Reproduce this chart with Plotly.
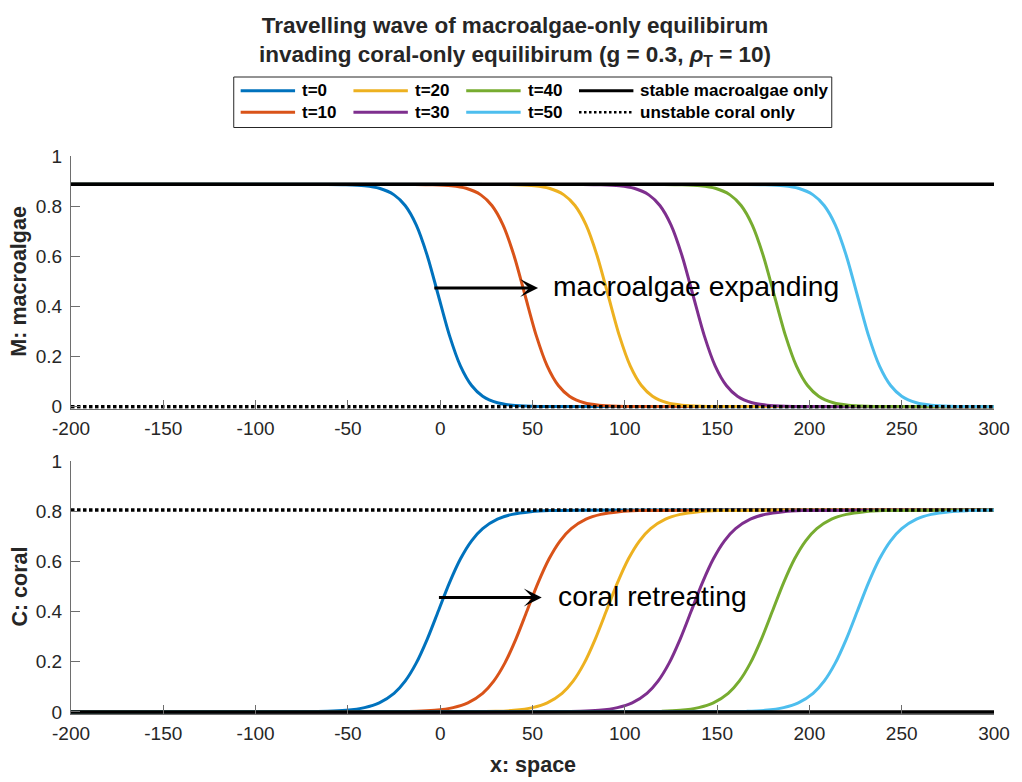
import plotly.graph_objects as go

# ---------------- data ----------------
TIME_LABELS = ["t=0", "t=10", "t=20", "t=30", "t=40", "t=50"]
COLORS = ["#0072BD", "#D95319", "#EDB120", "#7E2F8E", "#77AC30", "#4DBEEE"]

# M: macroalgae profiles (x positions per time, shared read profile values)
M_X_T0 = [-200, -61, -51, -41, -33, -25, -19, -13, -7, -1, 5, 11, 17, 23, 31, 39, 49, 59, 300]
M_X_T10 = [-200, -14, -4, 6, 14, 22, 28, 34, 40, 46, 52, 58, 64, 70, 78, 86, 96, 106, 300]
M_X_T20 = [-200, 31, 41, 51, 59, 67, 73, 79, 85, 91, 97, 103, 109, 115, 123, 131, 141, 151, 300]
M_X_T30 = [-200, 77, 87, 97, 105, 113, 119, 125, 131, 137, 143, 149, 155, 161, 169, 177, 187, 197, 300]
M_X_T40 = [-200, 121, 131, 141, 149, 157, 163, 169, 175, 181, 187, 193, 199, 205, 213, 221, 231, 241, 300]
M_X_T50 = [-200, 166, 176, 186, 194, 202, 208, 214, 220, 226, 232, 238, 244, 250, 258, 266, 276, 286, 300]
M_VALUES = [0.887, 0.8865, 0.8853, 0.8811, 0.8711, 0.8449, 0.8024, 0.7252, 0.6024, 0.4435,
            0.2846, 0.1618, 0.0846, 0.0421, 0.0159, 0.0059, 0.0017, 0.0005, 0.0]

# C: coral profiles
C_X_T0 = [-200, -61, -51, -41, -33, -25, -19, -13, -7, -1, 5, 11, 17, 23, 31, 39, 49, 59, 300]
C_X_T10 = [-200, -13, -3, 7, 15, 23, 29, 35, 41, 47, 53, 59, 65, 71, 79, 87, 97, 107, 300]
C_X_T20 = [-200, 30, 40, 50, 58, 66, 72, 78, 84, 90, 96, 102, 108, 114, 122, 130, 140, 150, 300]
C_X_T30 = [-200, 76, 86, 96, 104, 112, 118, 124, 130, 136, 142, 148, 154, 160, 168, 176, 186, 196, 300]
C_X_T40 = [-200, 120, 130, 140, 148, 156, 162, 168, 174, 180, 186, 192, 198, 204, 212, 220, 230, 240, 300]
C_X_T50 = [-200, 166, 176, 186, 194, 202, 208, 214, 220, 226, 232, 238, 244, 250, 258, 266, 276, 286, 300]
C_VALUES = [0.0, 0.0027, 0.0068, 0.0175, 0.0365, 0.0743, 0.1229, 0.1946, 0.2905, 0.4025,
            0.5145, 0.6104, 0.6821, 0.7307, 0.7685, 0.7875, 0.7982, 0.8023, 0.805]

M_X = [M_X_T0, M_X_T10, M_X_T20, M_X_T30, M_X_T40, M_X_T50]
C_X = [C_X_T0, C_X_T10, C_X_T20, C_X_T30, C_X_T40, C_X_T50]

# equilibria
EQ_X = [-200, 300]
STABLE_M = [0.887, 0.887]   # macroalgae-only: M
STABLE_C = [0.0, 0.0]       # macroalgae-only: C
UNSTABLE_M = [0.0, 0.0]     # coral-only: M
UNSTABLE_C = [0.805, 0.805] # coral-only: C

X_TICKS = [-200, -150, -100, -50, 0, 50, 100, 150, 200, 250, 300]
X_TICK_TEXT = ["-200", "-150", "-100", "-50", "0", "50", "100", "150", "200", "250", "300"]
Y_TICKS = [0, 0.2, 0.4, 0.6, 0.8, 1]
Y_TICK_TEXT = ["0", "0.2", "0.4", "0.6", "0.8", "1"]

# arrow annotations (data coordinates)
TOP_ARROW = dict(x0=-4, x1=53, y=0.473)
TOP_TEXT = dict(x=60, y=0.48, text="macroalgae expanding")
BOT_ARROW = dict(x0=-1.5, x1=55, y=0.456)
BOT_TEXT = dict(x=62.5, y=0.463, text="coral retreating")

# ---------------- layout helpers ----------------
W, H = 1022, 782
ML, MR, MT, MB = 71, 18, 156, 68
PW, PH = W - ML - MR, H - MT - MB


def px_x(p):
    return (p - ML) / PW


def px_y(p):
    return (H - MB - p) / PH


FONT = "Liberation Sans, Arial, Helvetica, sans-serif"
TXT = "#262626"
AX = "#6e6e6e"

fig = go.Figure()

for i in range(6):
    fig.add_trace(go.Scatter(x=M_X[i], y=M_VALUES, mode="lines", name=TIME_LABELS[i],
                             line=dict(color=COLORS[i], width=3, shape="spline", smoothing=0.8),
                             xaxis="x", yaxis="y", showlegend=False))
for i in range(6):
    fig.add_trace(go.Scatter(x=C_X[i], y=C_VALUES, mode="lines", name=TIME_LABELS[i],
                             line=dict(color=COLORS[i], width=3, shape="spline", smoothing=0.8),
                             xaxis="x2", yaxis="y2", showlegend=False))

DOT = "3.5px,2.5px"
fig.add_trace(go.Scatter(x=EQ_X, y=STABLE_M, mode="lines", name="stable macroalgae only",
                         line=dict(color="black", width=3.5), xaxis="x", yaxis="y", showlegend=False))
fig.add_trace(go.Scatter(x=EQ_X, y=UNSTABLE_M, mode="lines", name="unstable coral only",
                         line=dict(color="black", width=3.5, dash=DOT), xaxis="x", yaxis="y", showlegend=False))
fig.add_trace(go.Scatter(x=EQ_X, y=STABLE_C, mode="lines", name="stable macroalgae only",
                         line=dict(color="black", width=3.5), xaxis="x2", yaxis="y2", showlegend=False))
fig.add_trace(go.Scatter(x=EQ_X, y=UNSTABLE_C, mode="lines", name="unstable coral only",
                         line=dict(color="black", width=3.5, dash=DOT), xaxis="x2", yaxis="y2", showlegend=False))

axis_common = dict(showline=True, linecolor=AX, linewidth=1, mirror=False,
                   ticks="inside", ticklen=9, tickwidth=1, tickcolor=AX,
                   showgrid=False, zeroline=False,
                   tickfont=dict(family=FONT, size=19, color=TXT))

top_dom = [px_y(408.7), 1.0]
bot_dom = [0.0, px_y(461)]

fig.update_layout(
    width=W, height=H,
    margin=dict(l=ML, r=MR, t=MT, b=MB),
    paper_bgcolor="white", plot_bgcolor="white",
    showlegend=False,
    xaxis=dict(domain=[0, 1], anchor="y", range=[-200, 300], tickvals=X_TICKS,
               ticktext=X_TICK_TEXT, ticklabelstandoff=2, **axis_common),
    yaxis=dict(domain=top_dom, anchor="x", range=[-0.008, 1.0], tickvals=Y_TICKS,
               ticktext=Y_TICK_TEXT, ticklabelstandoff=4, **axis_common),
    xaxis2=dict(domain=[0, 1], anchor="y2", range=[-200, 300], tickvals=X_TICKS,
                ticktext=X_TICK_TEXT, ticklabelstandoff=2, **axis_common),
    yaxis2=dict(domain=bot_dom, anchor="x2", range=[-0.008, 1.0], tickvals=Y_TICKS,
                ticktext=Y_TICK_TEXT, ticklabelstandoff=4, **axis_common),
    title=dict(text="Travelling wave of macroalgae-only equilibirum<br>"
                    "invading coral-only equilibirum (g = 0.3, <i>ρ</i><sub>T</sub> = 10)",
               font=dict(family=FONT, size=22.5, color=TXT, weight=700),
               xref="container", x=515 / W, xanchor="center",
               yref="container", y=1 - 33 / H, yanchor="middle"),
)

annotations = []
# axis titles
annotations.append(dict(text="M: macroalgae", xref="paper", yref="paper",
                        x=px_x(18.5), y=px_y(281.6), showarrow=False, textangle=-90,
                        xanchor="center", yanchor="middle",
                        font=dict(family=FONT, size=21.5, color=TXT, weight=700)))
annotations.append(dict(text="C: coral", xref="paper", yref="paper",
                        x=px_x(18.5), y=px_y(586.5), showarrow=False, textangle=-90,
                        xanchor="center", yanchor="middle",
                        font=dict(family=FONT, size=21.5, color=TXT, weight=700)))
annotations.append(dict(text="x: space", xref="paper", yref="paper",
                        x=px_x(537.5), y=px_y(765), showarrow=False,
                        xanchor="center", yanchor="middle",
                        font=dict(family=FONT, size=21.5, color=TXT, weight=700)))
# arrows + labels
for arr, txt, xr, yr in [(TOP_ARROW, TOP_TEXT, "x", "y"), (BOT_ARROW, BOT_TEXT, "x2", "y2")]:
    annotations.append(dict(x=arr["x1"], y=arr["y"], ax=arr["x0"], ay=arr["y"],
                            xref=xr, yref=yr, axref=xr, ayref=yr, text="",
                            showarrow=True, arrowhead=3, arrowsize=1, arrowwidth=3,
                            arrowcolor="black", standoff=0, startstandoff=0))
    annotations.append(dict(x=txt["x"], y=txt["y"], xref=xr, yref=yr, text=txt["text"],
                            showarrow=False, xanchor="left", yanchor="middle",
                            font=dict(family=FONT, size=28.3, color="black")))

# manual legend (4 columns x 2 rows, column-major like the reference)
shapes = [dict(type="rect", xref="paper", yref="paper",
               x0=px_x(235.5), x1=px_x(840), y0=px_y(127.5), y1=px_y(77),
               line=dict(color=TXT, width=1), fillcolor="white", layer="above")]
legend_items = [
    (TIME_LABELS[0], COLORS[0], None, 0, 0), (TIME_LABELS[1], COLORS[1], None, 0, 1),
    (TIME_LABELS[2], COLORS[2], None, 1, 0), (TIME_LABELS[3], COLORS[3], None, 1, 1),
    (TIME_LABELS[4], COLORS[4], None, 2, 0), (TIME_LABELS[5], COLORS[5], None, 2, 1),
    ("stable macroalgae only", "black", None, 3, 0),
    ("unstable coral only", "black", "2.5px,2.5px", 3, 1),
]
col_x = [242.5, 356.5, 470.5, 584.5]
row_y = [90.7, 112.3]
for label, color, dash, c, r in legend_items:
    x0 = col_x[c]
    yy = px_y(row_y[r])
    ln = dict(color=color, width=3 if dash is None else 2.5)
    if dash:
        ln["dash"] = dash
    shapes.append(dict(type="line", xref="paper", yref="paper",
                       x0=px_x(x0), x1=px_x(x0 + 55), y0=yy, y1=yy, line=ln, layer="above"))
    annotations.append(dict(text=label, xref="paper", yref="paper", x=px_x(x0 + 60), y=yy,
                            showarrow=False, xanchor="left", yanchor="middle",
                            font=dict(family=FONT, size=17, color="black", weight=700)))

fig.update_layout(annotations=annotations, shapes=shapes)

fig.write_html("out.html")
